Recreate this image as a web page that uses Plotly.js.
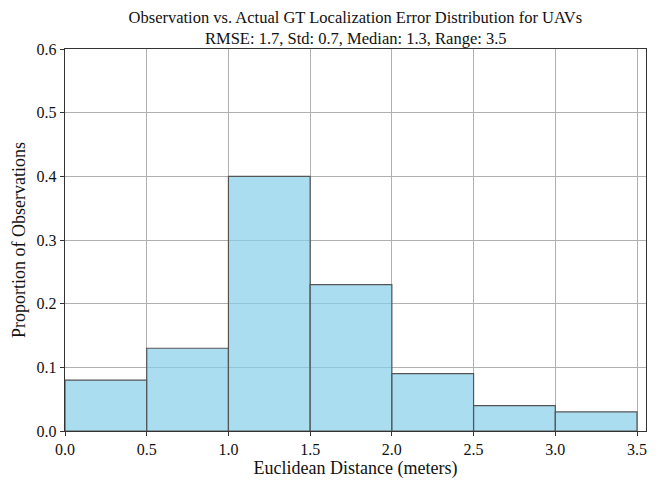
<!DOCTYPE html>
<html><head><meta charset="utf-8">
<script src="https://cdn.plot.ly/plotly-3.0.1.min.js"></script>
<style>html,body{margin:0;padding:0;background:#fff}</style>
</head><body>
<div id="chart" style="width:658px;height:481px"></div>
<script>
const binLeft = [0.0, 0.5, 1.0, 1.5, 2.0, 2.5, 3.0];
const binWidth = 0.5;
const proportions = [0.08, 0.13, 0.40, 0.23, 0.09, 0.04, 0.03];
const xTicks = [0.0, 0.5, 1.0, 1.5, 2.0, 2.5, 3.0, 3.5];
const yTicks = [0.0, 0.1, 0.2, 0.3, 0.4, 0.5, 0.6];
const titleLine1 = 'Observation vs. Actual GT Localization Error Distribution for UAVs';
const titleLine2 = 'RMSE: 1.7, Std: 0.7, Median: 1.3, Range: 3.5';

const font = 'Liberation Serif, DejaVu Serif, serif';
const trace = {
  type: 'bar',
  x: binLeft.map(v => v + binWidth / 2),
  y: proportions,
  width: binWidth,
  marker: {color: 'rgba(135,206,235,0.7)', line: {color: '#555555', width: 1.2}},
  hoverinfo: 'skip'
};
const layout = {
  width: 658, height: 481,
  margin: {l: 65, r: 12, t: 49, b: 50},
  paper_bgcolor: '#fff', plot_bgcolor: '#fff',
  showlegend: false,
  bargap: 0,
  title: {text: titleLine1, x: 0.54, xanchor: 'center', y: 0.964, yanchor: 'middle',
          font: {family: font, size: 16.5, color: '#111'}},
  annotations: [
    {text: titleLine2, xref: 'paper', yref: 'paper', x: 0.5, y: 1.0275, xanchor: 'center', yanchor: 'middle',
     showarrow: false, font: {family: font, size: 16.5, color: '#111'}}
  ],
  xaxis: {
    range: [0, 3.555], tickvals: xTicks, ticktext: xTicks.map(v => v.toFixed(1)),
    showgrid: true, gridcolor: '#b0b0b0', gridwidth: 1,
    showline: true, linecolor: '#333', linewidth: 1.2, mirror: true,
    ticks: 'outside', ticklen: 4, tickcolor: '#333', zeroline: false,
    tickfont: {family: font, size: 16, color: '#111'},
    title: {text: 'Euclidean Distance (meters)', font: {family: font, size: 18, color: '#111'}, standoff: 4}
  },
  yaxis: {
    range: [0, 0.6], tickvals: yTicks, ticktext: yTicks.map(v => v.toFixed(1)),
    showgrid: true, gridcolor: '#b0b0b0', gridwidth: 1,
    showline: true, linecolor: '#333', linewidth: 1.2, mirror: true,
    ticks: 'outside', ticklen: 4, tickcolor: '#333', zeroline: false,
    tickfont: {family: font, size: 16, color: '#111'},
    title: {text: 'Proportion of Observations', font: {family: font, size: 18, color: '#111'}, standoff: 6}
  }
};
Plotly.newPlot('chart', [trace], layout, {staticPlot: true, displayModeBar: false});
</script>
</body></html>
